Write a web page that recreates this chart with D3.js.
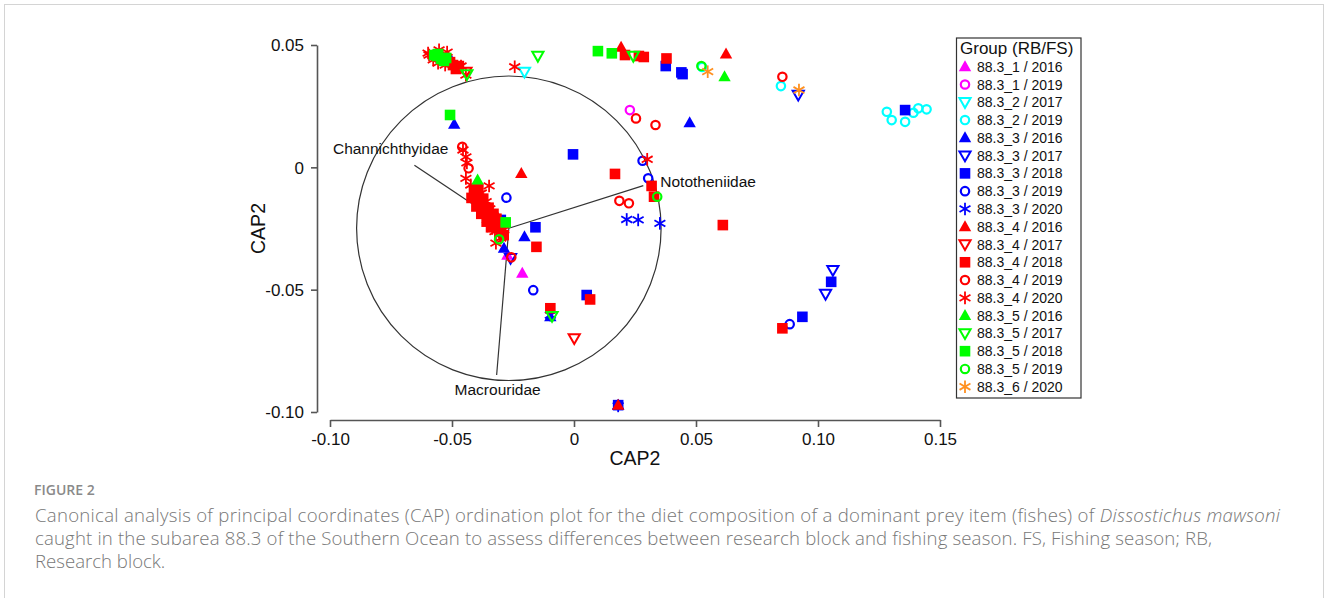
<!DOCTYPE html>
<html>
<head>
<meta charset="utf-8">
<script src="https://cdn.jsdelivr.net/npm/d3@7"></script>
<style>
  html, body { margin: 0; padding: 0; background: #fff; }
  svg { display: block; }
</style>
</head>
<body>
<svg id="chart" width="1328" height="598"></svg>
<script>
// ---------------- DATA ----------------
const xTicks = [-0.10, -0.05, 0, 0.05, 0.10, 0.15];
const xTickLabels = ["-0.10", "-0.05", "0", "0.05", "0.10", "0.15"];
const yTicks = [0.05, 0, -0.05, -0.10];
const yTickLabels = ["0.05", "0", "-0.05", "-0.10"];

const groupLabels = [
  "88.3_1 / 2016", "88.3_1 / 2019", "88.3_2 / 2017", "88.3_2 / 2019",
  "88.3_3 / 2016", "88.3_3 / 2017", "88.3_3 / 2018", "88.3_3 / 2019", "88.3_3 / 2020",
  "88.3_4 / 2016", "88.3_4 / 2017", "88.3_4 / 2018", "88.3_4 / 2019", "88.3_4 / 2020",
  "88.3_5 / 2016", "88.3_5 / 2017", "88.3_5 / 2018", "88.3_5 / 2019", "88.3_6 / 2020"
];

// CAP1 (x), CAP2 (y) scores per group
const p_1_2016 = [[-0.0212,-0.0433],[-0.0273,-0.0359]];
const p_1_2019 = [[0.0229,0.0234]];
const p_2_2017 = [[-0.0203,0.0390]];
const p_2_2019 = [[0.0848,0.0332],[0.1282,0.0227],[0.1302,0.0193],[0.1357,0.0186],[0.1391,0.0223],[0.1411,0.0241],[0.1445,0.0237],[0.0525,0.0410]];
const p_3_2016 = [[-0.0491,0.0176],[0.0474,0.0182],[-0.0203,-0.0284],[-0.0287,-0.0331],[-0.0097,-0.0611],[0.0181,-0.0972],[-0.0504,0.0439]];
const p_3_2017 = [[0.1061,-0.0420],[0.1031,-0.0518],[0.0919,0.0296],[-0.0260,-0.0371]];
const p_3_2018 = [[-0.0004,0.0053],[-0.0158,-0.0245],[-0.0300,-0.0215],[0.0052,-0.0522],[0.0376,0.0414],[0.0440,0.0388],[0.0445,0.0381],[0.1357,0.0234],[0.1054,-0.0468],[0.0936,-0.0611],[0.0181,-0.0972]];
const p_3_2019 = [[-0.0277,-0.0124],[-0.0167,-0.0502],[0.0281,0.0027],[0.0304,-0.0045],[0.0884,-0.0641]];
const p_3_2020 = [[0.0216,-0.0213],[0.0263,-0.0215],[0.0352,-0.0229],[-0.0328,-0.0229],[-0.0097,-0.0604],[0.0181,-0.0975]];
const p_4_2016 = [[-0.0216,-0.0025],[0.0623,0.0463],[0.0193,0.0491],[0.0181,-0.0972]];
const p_4_2017 = [[0.0001,-0.0699],[-0.0443,0.0390]];
const p_4_2018 = [[0.0209,0.0459],[0.0266,0.0455],[0.0286,0.0451],[0.0379,0.0445],[0.0168,-0.0027],[0.0318,-0.0076],[0.0328,-0.0120],[0.0610,-0.0236],[-0.0154,-0.0325],[0.0066,-0.0540],[-0.0097,-0.0576],[0.0854,-0.0658],
  [-0.0410,-0.0093],[-0.0398,-0.0117],[-0.0386,-0.0142],[-0.0374,-0.0158],[-0.0361,-0.0179],[-0.0349,-0.0195],[-0.0337,-0.0211],[-0.0325,-0.0228],[-0.0312,-0.0244],[-0.0300,-0.0260],[-0.0288,-0.0277],
  [-0.0420,-0.0125],[-0.0392,-0.0090],[-0.0372,-0.0128],[-0.0400,-0.0160],[-0.0350,-0.0165],[-0.0380,-0.0190],[-0.0330,-0.0190],[-0.0358,-0.0222],[-0.0318,-0.0210],[-0.0340,-0.0245],
  [-0.0496,0.0418],[-0.0484,0.0402],[-0.0472,0.0414],[-0.0508,0.0430]];
const p_4_2019 = [[0.0854,0.0370],[0.0254,0.0200],[0.0334,0.0173],[0.0186,-0.0137],[0.0225,-0.0147],[-0.0458,0.0084],[-0.0432,-0.0004],[-0.0257,-0.0368]];
const p_4_2020 = [[-0.0243,0.0411],[-0.0348,-0.0076],[-0.0443,0.0043],[-0.0443,-0.0045],[-0.0324,-0.0263],[0.0300,0.0033],[-0.0443,0.0377],
  [-0.0594,0.0459],[-0.0577,0.0439],[-0.0598,0.0467],[-0.0557,0.0426],[-0.0528,0.0418],[-0.0463,0.0414],[-0.0520,0.0471],[-0.0553,0.0480],
  [-0.0455,0.0071],[-0.0439,0.0018],[-0.0423,-0.0072],[-0.0390,-0.0125],[-0.0366,-0.0158],[-0.0341,-0.0191],[-0.0317,-0.0224],[-0.0288,-0.0256],[-0.0300,-0.0289],[-0.0320,-0.0310],
  [-0.0405,-0.0100],[-0.0380,-0.0105],[-0.0395,-0.0150],[-0.0360,-0.0140],[-0.0375,-0.0185],[-0.0345,-0.0170],[-0.0355,-0.0215],[-0.0330,-0.0200],[-0.0335,-0.0250],[-0.0305,-0.0235]];
const p_5_2016 = [[-0.0395,-0.0052],[0.0617,0.0370]];
const p_5_2017 = [[-0.0148,0.0455],[-0.0439,0.0380],[-0.0090,-0.0608],[0.0243,0.0455]];
const p_5_2018 = [[-0.0508,0.0214],[0.0098,0.0475],[0.0155,0.0466],[-0.0280,-0.0225],[-0.0561,0.0455],[-0.0545,0.0443],[-0.0533,0.0435],[-0.0557,0.0463],[-0.0524,0.0447],[-0.0573,0.0459]];
const p_5_2019 = [[0.0522,0.0414],[0.0341,-0.0120],[-0.0307,-0.0294]];
const p_6_2020 = [[0.0548,0.0391],[0.0922,0.0316]];

const groupPoints = [p_1_2016, p_1_2019, p_2_2017, p_2_2019, p_3_2016, p_3_2017, p_3_2018, p_3_2019, p_3_2020,
  p_4_2016, p_4_2017, p_4_2018, p_4_2019, p_4_2020, p_5_2016, p_5_2017, p_5_2018, p_5_2019, p_6_2020];

// biplot vectors (correlations drawn from the circle centre)
const vectorLabels = ["Channichthyidae", "Nototheniidae", "Macrouridae"];
const vectorEnds = [[-0.0654, 0.0009], [0.0284, -0.0075], [-0.0317, -0.0849]];
const biplotOrigin = [-0.0267, -0.0249];
const biplotRadius = 0.0624;

// ---------------- STYLE ----------------
const groupColors = ["#ff00ff","#ff00ff","#00ffff","#00ffff","#0000ff","#0000ff","#0000ff","#0000ff","#0000ff",
  "#ff0000","#ff0000","#ff0000","#ff0000","#ff0000","#00ff00","#00ff00","#00ff00","#00ff00","#ff9020"];
const groupShapes = ["tri","circ","dtri","circ","tri","dtri","sq","circ","ast",
  "tri","dtri","sq","circ","ast","tri","dtri","sq","circ","ast"];

const FONT = "'Liberation Sans', Arial, Helvetica, sans-serif";
const svg = d3.select("#chart");

// frame
svg.append("rect").attr("x", 4.5).attr("y", 4.5).attr("width", 1319).attr("height", 620)
  .attr("fill", "none").attr("stroke", "#d4d4d4").attr("stroke-width", 1);

const x = d3.scaleLinear().domain([-0.10, 0.15]).range([330, 940]);
const y = d3.scaleLinear().domain([-0.10, 0.05]).range([412, 45]);

// axes
const xAxisG = svg.append("g").attr("transform", "translate(0,420)")
  .call(d3.axisBottom(x).tickValues(xTicks).tickFormat((d, i) => xTickLabels[i]).tickSizeOuter(0).tickSizeInner(7).tickPadding(6));
const yAxisG = svg.append("g").attr("transform", "translate(317,0)")
  .call(d3.axisLeft(y).tickValues(yTicks).tickFormat((d, i) => yTickLabels[i]).tickSizeOuter(0).tickSizeInner(6).tickPadding(7));
[xAxisG, yAxisG].forEach(g => {
  g.selectAll("path.domain").attr("stroke", "#555").attr("stroke-width", 1.6);
  g.selectAll(".tick line").attr("stroke", "#555").attr("stroke-width", 1.6);
  g.selectAll(".tick text").attr("fill", "#111").style("font-family", FONT).style("font-size", "17px");
});
yAxisG.selectAll(".tick text").attr("dy", "0.35em");

svg.append("text").attr("x", 635).attr("y", 465).attr("text-anchor", "middle")
  .style("font-family", FONT).style("font-size", "19.5px").attr("fill", "#111").text("CAP2");
svg.append("text").attr("transform", "translate(265,228.5) rotate(-90)").attr("text-anchor", "middle")
  .style("font-family", FONT).style("font-size", "19.5px").attr("fill", "#111").text("CAP2");

// biplot circle and vectors
const cx = x(biplotOrigin[0]), cy = y(biplotOrigin[1]);
svg.append("circle").attr("cx", cx).attr("cy", cy).attr("r", x(biplotRadius) - x(0))
  .attr("fill", "none").attr("stroke", "#333").attr("stroke-width", 1.2);
vectorEnds.forEach(v => {
  svg.append("line").attr("x1", cx).attr("y1", cy).attr("x2", x(v[0])).attr("y2", y(v[1]))
    .attr("stroke", "#333").attr("stroke-width", 1.2);
});
const labelOffsets = [[34, -11, "end"], [17, 1, "start"], [1, 20, "middle"]];
vectorLabels.forEach((t, i) => {
  const o = labelOffsets[i];
  svg.append("text").attr("x", x(vectorEnds[i][0]) + o[0]).attr("y", y(vectorEnds[i][1]) + o[1])
    .attr("text-anchor", o[2]).style("font-family", FONT).style("font-size", "15.5px").attr("fill", "#111").text(t);
});

// marker generator
function drawMarker(g, shape, color, px, py) {
  if (shape === "tri") {
    g.append("path").attr("d", `M${px},${py-6.5}L${px+6.2},${py+4.5}L${px-6.2},${py+4.5}Z`).attr("fill", color);
  } else if (shape === "dtri") {
    g.append("path").attr("d", `M${px-5.6},${py-4.2}L${px+5.6},${py-4.2}L${px},${py+5.6}Z`)
      .attr("fill", "none").attr("stroke", color).attr("stroke-width", 2);
  } else if (shape === "sq") {
    g.append("rect").attr("x", px - 5.3).attr("y", py - 5.3).attr("width", 10.6).attr("height", 10.6).attr("fill", color);
  } else if (shape === "circ") {
    g.append("circle").attr("cx", px).attr("cy", py).attr("r", 4.2)
      .attr("fill", "none").attr("stroke", color).attr("stroke-width", 2.2);
  } else if (shape === "ast") {
    const r = 6.3;
    [90, 30, 150].forEach(a => {
      const rad = a * Math.PI / 180;
      g.append("line").attr("x1", px - r * Math.cos(rad)).attr("y1", py - r * Math.sin(rad))
        .attr("x2", px + r * Math.cos(rad)).attr("y2", py + r * Math.sin(rad))
        .attr("stroke", color).attr("stroke-width", 1.8);
    });
  }
}

// points
const pts = svg.append("g");
groupPoints.forEach((arr, gi) => {
  arr.forEach(p => drawMarker(pts, groupShapes[gi], groupColors[gi], x(p[0]), y(p[1])));
});

// legend
const lg = svg.append("g");
lg.append("rect").attr("x", 956.5).attr("y", 38).attr("width", 124.5).attr("height", 360)
  .attr("fill", "#fff").attr("stroke", "#333").attr("stroke-width", 1.2);
lg.append("text").attr("x", 960).attr("y", 48.5).attr("dy", "0.35em")
  .style("font-family", FONT).style("font-size", "17px").attr("fill", "#111").text("Group (RB/FS)");
groupLabels.forEach((lab, i) => {
  const yy = 66.7 + i * 17.78;
  drawMarker(lg, groupShapes[i], groupColors[i], 965, yy);
  lg.append("text").attr("x", 977).attr("y", yy).attr("dy", "0.36em")
    .style("font-family", FONT).style("font-size", "14px").attr("fill", "#111").text(lab);
});

// caption
const CAPFONT = "'Open Sans', 'Noto Sans', sans-serif";
svg.append("text").attr("x", 34).attr("y", 490.5).attr("dy", "0.35em")
  .style("font-family", CAPFONT).style("font-size", "14px").style("font-weight", 600)
  .attr("fill", "#8a8a8a").text("FIGURE 2");
const capLines = [
  ["Canonical analysis of principal coordinates (CAP) ordination plot for the diet composition of a dominant prey item (fishes) of ", "Dissostichus mawsoni", 1245],
  ["caught in the subarea 88.3 of the Southern Ocean to assess differences between research block and fishing season. FS, Fishing season; RB,", "", 1177],
  ["Research block.", "", 0]
];
capLines.forEach((ln, i) => {
  const t = svg.append("text").attr("x", 35).attr("y", 515 + i * 23.3).attr("dy", "0.35em")
    .style("font-family", CAPFONT).style("font-size", "18.6px").style("font-weight", 300).attr("fill", "#777");
  if (ln[2]) t.attr("textLength", ln[2]).attr("lengthAdjust", "spacing");
  t.append("tspan").text(ln[0]);
  if (ln[1]) t.append("tspan").style("font-style", "italic").text(ln[1]);
});
</script>
</body>
</html>
